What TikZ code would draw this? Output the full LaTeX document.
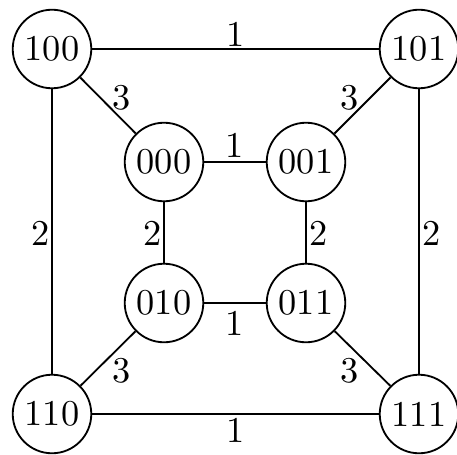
\documentclass[tikz,border=0pt]{standalone}
\begin{document}
\begin{tikzpicture}[x=0.275pt,y=-0.275pt,
  vtx/.style={circle,draw,line width=0.5pt,minimum size=21.6pt,inner sep=0pt,font=\fontsize{10}{12}\selectfont},
  lbl/.style={inner sep=0pt,font=\fontsize{10}{12}\selectfont},
  conn/.style={line width=0.5pt}]
\useasboundingbox (0,0) rectangle (457,454);
\node[vtx] (n100) at (52,49) {100};
\node[vtx] (n101) at (419,49) {101};
\node[vtx] (n000) at (164,162) {000};
\node[vtx] (n001) at (306,162) {001};
\node[vtx] (n010) at (164,303) {010};
\node[vtx] (n011) at (306,303) {011};
\node[vtx] (n110) at (52,414) {110};
\node[vtx] (n111) at (419,414) {111};
\draw[conn] (n100) -- node[lbl,shift={(0,-14.5)}] {1} (n101);
\draw[conn] (n000) -- node[lbl,shift={(0,-17)}] {1} (n001);
\draw[conn] (n010) -- node[lbl,shift={(0,20.5)}] {1} (n011);
\draw[conn] (n110) -- node[lbl,shift={(0,16)}] {1} (n111);
\draw[conn] (n100) -- node[lbl,shift={(-11.5,2)}] {2} (n110);
\draw[conn] (n000) -- node[lbl,shift={(-11,1)}] {2} (n010);
\draw[conn] (n001) -- node[lbl,shift={(13,1)}] {2} (n011);
\draw[conn] (n101) -- node[lbl,shift={(12.5,2)}] {2} (n111);
\draw[conn] (n100) -- node[lbl,shift={(14,-7.5)}] {3} (n000);
\draw[conn] (n101) -- node[lbl,shift={(-12.5,-7.5)}] {3} (n001);
\draw[conn] (n110) -- node[lbl,shift={(14,12)}] {3} (n010);
\draw[conn] (n111) -- node[lbl,shift={(-12.5,12)}] {3} (n011);
\end{tikzpicture}
\end{document}
